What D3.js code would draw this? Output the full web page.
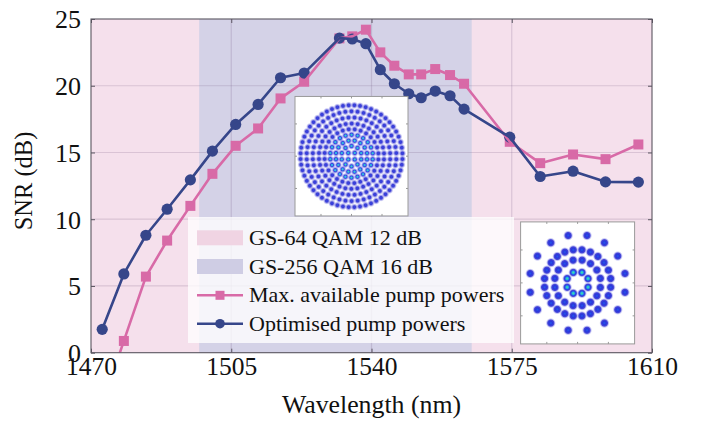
<!DOCTYPE html>
<html>
<head>
<meta charset="utf-8">
<script src="https://cdn.jsdelivr.net/npm/d3@7"></script>
<style>
  html, body { margin: 0; padding: 0; background: #ffffff; }
  svg { display: block; font-family: "Liberation Serif", "Times New Roman", serif; }
</style>
</head>
<body>
<svg id="chart" width="702" height="423"></svg>
<script>
// ---------------- data ----------------
const wavelengths = [1472.8, 1478.2, 1483.7, 1489.0, 1494.8, 1500.3, 1506.1, 1511.7, 1517.3, 1523.2,
                     1532.0, 1535.2, 1538.6, 1542.2, 1545.7, 1549.3, 1552.4, 1555.9, 1559.6, 1563.1,
                     1574.5, 1582.1, 1590.3, 1598.4, 1606.6];
const maxPumpSNR   = [-3.9, 0.88, 5.7, 8.4, 11.0, 13.4, 15.5, 16.8, 19.05, 20.3,
                      23.55, 23.7, 24.2, 22.5, 21.5, 20.85, 20.85, 21.25, 20.8, 20.15,
                      15.8, 14.2, 14.85, 14.5, 15.6];
const optimisedSNR = [1.75, 5.9, 8.8, 10.75, 12.95, 15.1, 17.1, 18.6, 20.6, 20.95,
                      23.57, 23.5, 23.15, 21.2, 20.15, 19.4, 19.1, 19.6, 19.25, 18.25,
                      16.15, 13.2, 13.6, 12.8, 12.78];
const xTicks = [1470, 1505, 1540, 1575, 1610];
const yTicks = [0, 5, 10, 15, 20, 25];
const gs256Band = [1497, 1565];   // GS-256 region (rest is GS-64)
const legendLabels = ["GS-64 QAM 12 dB", "GS-256 QAM 16 dB", "Max. available pump powers", "Optimised pump powers"];
// constellation ring specs (normalised radius, point count, phase in degrees)
const gs64Radii  = [0.234, 0.48, 0.69, 1.0];
const gs64Counts = [8, 16, 24, 16];
const gs64Phase  = [22.5, 11.25, 7.5, 11.25];
const gs256Radii  = [0.09, 0.2, 0.31, 0.42, 0.53, 0.64, 0.76, 0.88, 1.0];
const gs256Counts = [4, 10, 16, 22, 28, 34, 40, 46, 56];
const gs256Phase  = [45, 18, 11, 8, 6, 5, 4.5, 4, 3.2];

// ---------------- styles ----------------
const C = {
  pinkBg: "#f5e0ec", blueBg: "#d4d2e7",
  pink: "#d86aa7", navy: "#36468a",
  grid: "rgba(110,80,125,0.2)", frame: "#5a5560"
};
const FONT = "Liberation Serif";

const svg = d3.select("#chart");
const L = 91, R = 652, T = 19, B = 352.7;
const x = d3.scaleLinear().domain([1470, 1610]).range([L, R]);
const y = d3.scaleLinear().domain([0, 25]).range([B, T]);

const defs = svg.append("defs");
defs.append("clipPath").attr("id", "plotClip")
  .append("rect").attr("x", L).attr("y", T - 8).attr("width", R - L).attr("height", B - T + 8);
defs.append("clipPath").attr("id", "plotClipStrict")
  .append("rect").attr("x", L).attr("y", T).attr("width", R - L).attr("height", B - T);

// backgrounds
svg.append("rect").attr("x", L).attr("y", T).attr("width", R - L).attr("height", B - T).attr("fill", C.pinkBg);
svg.append("rect").attr("x", x(gs256Band[0])).attr("y", T)
  .attr("width", x(gs256Band[1]) - x(gs256Band[0])).attr("height", B - T).attr("fill", C.blueBg);

// grid
const grid = svg.append("g");
grid.selectAll("line.gx").data(xTicks.slice(1, -1)).join("line")
  .attr("x1", d => x(d)).attr("x2", d => x(d)).attr("y1", T).attr("y2", B)
  .attr("stroke", C.grid).attr("stroke-width", 1.2);
grid.selectAll("line.gy").data(yTicks.slice(1, -1)).join("line")
  .attr("x1", L).attr("x2", R).attr("y1", d => y(d)).attr("y2", d => y(d))
  .attr("stroke", C.grid).attr("stroke-width", 1.2);

// axes (ticks inward, no domain)
const axB = svg.append("g").attr("transform", `translate(0,${B})`)
  .call(d3.axisBottom(x).tickValues(xTicks).tickSize(-4).tickPadding(0).tickFormat(d3.format("d")));
const axT = svg.append("g").attr("transform", `translate(0,${T})`)
  .call(d3.axisTop(x).tickValues(xTicks).tickSize(-4).tickFormat(""));
const axL = svg.append("g").attr("transform", `translate(${L},0)`)
  .call(d3.axisLeft(y).tickValues(yTicks).tickSize(-4).tickPadding(10));
const axR = svg.append("g").attr("transform", `translate(${R},0)`)
  .call(d3.axisRight(y).tickValues(yTicks).tickSize(-4).tickFormat(""));
[axB, axT, axL, axR].forEach(a => {
  a.attr("font-family", FONT);
  a.select(".domain").remove();
  a.selectAll(".tick line").attr("stroke", C.frame).attr("stroke-width", 1);
  a.selectAll("text").attr("font-family", FONT).attr("fill", "#111");
});
axB.selectAll("text").attr("font-size", "25.5px").attr("y", 22).attr("dy", 0);
axL.selectAll("text").attr("font-size", "26px").attr("dy", "0.34em");

// series
const clipG = svg.append("g").attr("clip-path", "url(#plotClip)");
const lineGen = vals => d3.line().x((d, i) => x(wavelengths[i])).y(d => y(d))(vals);
const strictG = svg.append("g").attr("clip-path", "url(#plotClipStrict)");
strictG.append("path").attr("d", lineGen(maxPumpSNR)).attr("fill", "none")
  .attr("stroke", C.pink).attr("stroke-width", 2.6).attr("stroke-linejoin", "round");
clipG.selectAll("rect.sq").data(maxPumpSNR.map((v, i) => [wavelengths[i], v]).filter(d => d[1] >= 0)).join("rect")
  .attr("x", d => x(d[0]) - 5).attr("y", d => y(d[1]) - 5).attr("width", 10).attr("height", 10)
  .attr("fill", C.pink);
strictG.append("path").attr("d", lineGen(optimisedSNR)).attr("fill", "none")
  .attr("stroke", C.navy).attr("stroke-width", 2.6).attr("stroke-linejoin", "round");
clipG.selectAll("circle.ci").data(optimisedSNR.map((v, i) => [wavelengths[i], v])).join("circle")
  .attr("cx", d => x(d[0])).attr("cy", d => y(d[1])).attr("r", 5.6).attr("fill", C.navy);

// frame
svg.append("rect").attr("x", L).attr("y", T).attr("width", R - L).attr("height", B - T)
  .attr("fill", "none").attr("stroke", C.frame).attr("stroke-width", 1.1);

// ---------------- constellation insets ----------------
function grad(id, stops) {
  const g = defs.append("radialGradient").attr("id", id);
  stops.forEach(s => g.append("stop").attr("offset", s[0]).attr("stop-color", s[1]).attr("stop-opacity", s[2]));
}
grad("gInner", [[0, "#5ef07a", 1], [0.22, "#1fb7e6", 1], [0.48, "#2a3fe0", 1], [0.62, "#3a3ad8", 0.9], [0.8, "#6a6ae0", 0.35], [1, "#a0a0f0", 0]]);
grad("gOuter", [[0, "#2458ec", 1], [0.35, "#2a36da", 1], [0.6, "#3434d4", 0.9], [0.8, "#6a6ae0", 0.35], [1, "#a0a0f0", 0]]);
grad("g256In", [[0, "#48e8a0", 1], [0.2, "#2aa8ec", 1], [0.42, "#3040dc", 0.95], [0.7, "#5a5ae0", 0.45], [1, "#a0a0f0", 0]]);
grad("g256Out", [[0, "#2e46e0", 1], [0.35, "#3434d4", 0.95], [0.7, "#6464dc", 0.4], [1, "#a8a8f0", 0]]);

function inset(cx, cy, w, h, rOuter, radii, counts, phases, blob, gradFor) {
  const g = svg.append("g");
  g.append("rect").attr("x", cx - w / 2).attr("y", cy - h / 2).attr("width", w).attr("height", h)
    .attr("fill", "#ffffff").attr("stroke", "#9a9a9a").attr("stroke-width", 1);
  const tickF = [0.23, 0.5, 0.77];
  tickF.forEach(f => {
    const tx = cx - w / 2 + f * w, ty = cy - h / 2 + f * h;
    g.append("line").attr("x1", tx).attr("x2", tx).attr("y1", cy - h / 2).attr("y2", cy - h / 2 + 2).attr("stroke", "#999");
    g.append("line").attr("x1", tx).attr("x2", tx).attr("y1", cy + h / 2).attr("y2", cy + h / 2 - 2).attr("stroke", "#999");
    g.append("line").attr("y1", ty).attr("y2", ty).attr("x1", cx - w / 2).attr("x2", cx - w / 2 + 2).attr("stroke", "#999");
    g.append("line").attr("y1", ty).attr("y2", ty).attr("x1", cx + w / 2).attr("x2", cx + w / 2 - 2).attr("stroke", "#999");
  });
  const pts = [];
  radii.forEach((r, ri) => {
    for (let k = 0; k < counts[ri]; k++) {
      const a = (phases[ri] + 360 * k / counts[ri]) * Math.PI / 180;
      pts.push({ x: cx + r * rOuter * Math.cos(a), y: cy - r * rOuter * Math.sin(a), ri });
    }
  });
  g.selectAll("circle").data(pts).join("circle")
    .attr("cx", d => d.x).attr("cy", d => d.y).attr("r", blob)
    .attr("fill", d => `url(#${gradFor(d.ri)})`);
}
inset(351.5, 156.2, 113, 119.5, 51, gs256Radii, gs256Counts, gs256Phase, 3.9, ri => ri < 4 ? "g256In" : "g256Out");

// ---------------- legend ----------------
const lg = svg.append("g");
lg.append("rect").attr("x", 188).attr("y", 217).attr("width", 326).attr("height", 126)
  .attr("fill", "#ffffff").attr("fill-opacity", 0.78);
const rowY = [237.8, 266.5, 295.3, 323.7];
const sx0 = 197, sx1 = 243;
lg.append("rect").attr("x", sx0).attr("y", rowY[0] - 7.5).attr("width", sx1 - sx0).attr("height", 15)
  .attr("fill", "#f0d4e3");
lg.append("rect").attr("x", sx0).attr("y", rowY[1] - 7.5).attr("width", sx1 - sx0).attr("height", 15)
  .attr("fill", "#cfcde4");
lg.append("line").attr("x1", sx0).attr("x2", sx1).attr("y1", rowY[2]).attr("y2", rowY[2])
  .attr("stroke", C.pink).attr("stroke-width", 2.6);
lg.append("rect").attr("x", (sx0 + sx1) / 2 - 4.5).attr("y", rowY[2] - 4.5).attr("width", 9).attr("height", 9).attr("fill", C.pink);
lg.append("line").attr("x1", sx0).attr("x2", sx1).attr("y1", rowY[3]).attr("y2", rowY[3])
  .attr("stroke", C.navy).attr("stroke-width", 2.6);
lg.append("circle").attr("cx", (sx0 + sx1) / 2).attr("cy", rowY[3]).attr("r", 4.8).attr("fill", C.navy);
lg.selectAll("text").data(legendLabels).join("text")
  .attr("x", 249).attr("y", (d, i) => rowY[i] + 7)
  .attr("font-family", FONT)
  .attr("font-size", "22px").attr("fill", "#111").text(d => d);

inset(577.6, 282.9, 114, 122, 48.3, gs64Radii, gs64Counts, gs64Phase, 5.2, ri => ri === 0 ? "gInner" : "gOuter");

// ---------------- axis titles ----------------
svg.append("text").attr("x", (L + R) / 2).attr("y", 413).attr("text-anchor", "middle")
  .attr("font-family", FONT)
  .attr("font-size", "25.8px").attr("fill", "#111").text("Wavelength (nm)");
svg.append("text").attr("transform", "translate(31.5,181) rotate(-90)").attr("text-anchor", "middle")
  .attr("font-family", FONT)
  .attr("font-size", "24.5px").attr("fill", "#111").text("SNR (dB)");
</script>
</body>
</html>
